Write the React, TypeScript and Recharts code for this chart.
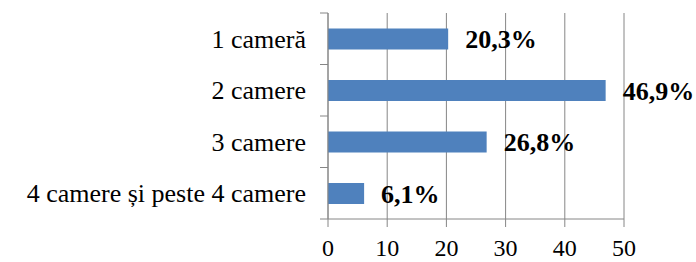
import React from "react";
import { BarChart, Bar, XAxis, YAxis, CartesianGrid, LabelList } from "recharts";

const categories = ["1 cameră", "2 camere", "3 camere", "4 camere și peste 4 camere"];
const values = [20.3, 46.9, 26.8, 6.1];
const xTicks = [0, 10, 20, 30, 40, 50];

const data = categories.map((c, i) => ({ name: c, value: values[i] }));

const AXIS = "#868686";
const FONT = "Liberation Serif, Times New Roman, Tinos, DejaVu Serif, serif";

const CategoryTick = (props: any) => {
  const { x, y, payload, index, visibleTicksCount, height } = props;
  const count = visibleTicksCount || categories.length;
  const band = height && count ? height / count : 51.5;
  const axisX = x + 22;
  const isLast = index === count - 1;
  return (
    <g>
      <line x1={axisX - 8} x2={axisX} y1={y - band / 2} y2={y - band / 2} stroke={AXIS} strokeWidth={1} />
      {isLast && (
        <line x1={axisX - 8} x2={axisX} y1={y + band / 2} y2={y + band / 2} stroke={AXIS} strokeWidth={1} />
      )}
      <text x={x} y={y} dy="0.355em" textAnchor="end" style={{ fontFamily: FONT }} fontSize={26} fill="#000">
        {payload.value}
      </text>
    </g>
  );
};

export default function App() {
  return (
    <div style={{ position: "absolute", left: 0, top: 0, width: 696, height: 262, background: "#fff", fontFamily: FONT }}>
      <BarChart
        width={696}
        height={262}
        data={data}
        layout="vertical"
        margin={{ top: 13, right: 72, left: 0, bottom: 0 }}
        barCategoryGap="30%"
        style={{ fontFamily: FONT }}
      >
        <CartesianGrid horizontal={false} stroke={AXIS} strokeWidth={1} />
        <XAxis
          type="number"
          domain={[0, 50]}
          ticks={xTicks}
          height={43}
          tickSize={8}
          tickMargin={12}
          stroke={AXIS}
          axisLine={{ stroke: AXIS }}
          tickLine={{ stroke: AXIS }}
          tick={{ fill: "#000", fontSize: 24, style: { fontFamily: FONT } }}
          interval={0}
        />
        <YAxis
          type="category"
          dataKey="name"
          width={328}
          tickSize={0}
          tickMargin={22}
          tickLine={false}
          axisLine={{ stroke: AXIS }}
          tick={<CategoryTick />}
          interval={0}
        />
        <Bar dataKey="value" fill="#4F81BD" isAnimationActive={false}>
          <LabelList
            dataKey="value"
            position="right"
            offset={17}
            formatter={(v: any) => `${String(v).replace(".", ",")}%`}
            style={{ fontFamily: FONT, fontSize: 26, fontWeight: "bold", fill: "#000" }}
          />
        </Bar>
      </BarChart>
    </div>
  );
}
